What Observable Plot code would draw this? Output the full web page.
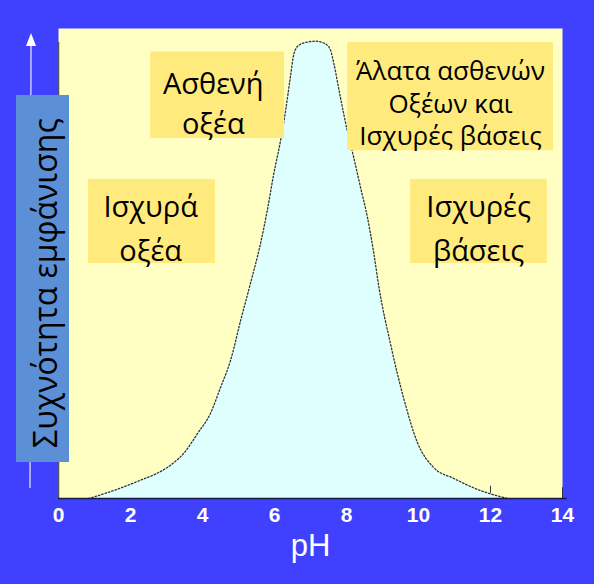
<!DOCTYPE html>
<html>
<head>
<meta charset="utf-8">
<script src="https://cdn.jsdelivr.net/npm/d3@7"></script>
<script src="https://cdn.jsdelivr.net/npm/@observablehq/plot@0.6"></script>
<style>
  html, body { margin: 0; padding: 0; background: #4040ff; }
  #wrap { position: relative; width: 594px; height: 584px; background: #4040ff; overflow: hidden; }
  #wrap > svg.plot { position: absolute; left: 0; top: 0; }
  #overlay { position: absolute; left: 0; top: 0; pointer-events: none; }
</style>
</head>
<body>
<div id="wrap"></div>
<script>
// ---- data ----
const ph   = [0.83, 1.5, 2.28, 2.8, 3.2, 3.5, 3.86, 4.22, 4.5, 4.78, 5.06, 5.33, 5.61, 5.80, 5.98, 6.17, 6.31, 6.44, 6.54, 6.67, 6.91, 7.14, 7.42, 7.56, 7.65, 7.83, 8.02, 8.20, 8.39, 8.58, 8.76, 8.90, 9.22, 9.60, 9.97, 10.42, 10.97, 11.72, 12.47];
const freq = [0,    1.6, 3.9,  5.6, 7.6, 9.8, 13.8, 18.1, 23.6, 29.4, 37.9, 45.7, 54.2, 61.3, 69.1, 76.2, 82.6, 89.6, 94.6, 96.4, 97.1, 97.3, 96.7, 95.3, 92.5, 85.4, 78.3, 72.6, 66.2, 59.9, 52.1, 45.0, 33.0, 21.0, 11.9, 6.6,  4.3,  1.7,  0];
const xTicks = [0, 2, 4, 6, 8, 10, 12, 14];
const stubTicks = [12, 14];
const stubTop = [2.6, 2.3];
const stubBottom = [1.1, 0];
const xLabel = "pH";
const yLabel = "Συχνότητα εμφάνισης";

// annotation boxes (data coordinates) and their texts
const boxX1 = [2.56, 8.03, 0.83, 9.78];
const boxX2 = [6.28, 13.75, 4.36, 13.58];
const boxY1 = [76.6, 74.0, 50.0, 50.0];
const boxY2 = [95.0, 97.0, 67.9, 67.9];
const boxTexts = ["Ασθενή\nοξέα", "Άλατα ασθενών\nΟξέων και\nΙσχυρές βάσεις", "Ισχυρά\nοξέα", "Ισχυρές\nβάσεις"];
const textX = [4.3, 10.89, 2.56, 11.67];
const textY = [84.6, 84.3, 58.2, 58.2];
const textSize = [29, 26, 29, 29];
const textLH = [1.4, 1.25, 1.5, 1.5];

const curve = ph.map((x, i) => ({x, y: freq[i]}));
const boxes = boxX1.map((x1, i) => ({x1, x2: boxX2[i], y1: boxY1[i], y2: boxY2[i]}));
const texts = boxTexts.map((t, i) => ({t, x: textX[i], y: textY[i], s: textSize[i], lh: textLH[i]}));
const stubs = stubTicks.map((x, i) => ({x, y1: stubBottom[i], y2: stubTop[i]}));

const greek = "'Open Sans', 'Noto Sans', sans-serif";
const latin = "'Liberation Sans', Arial, sans-serif";

const chart = Plot.plot({
  width: 594,
  height: 584,
  marginLeft: 58,
  marginRight: 32,
  marginTop: 28,
  marginBottom: 86,
  style: {background: "transparent", overflow: "visible"},
  x: {domain: [0, 14]},
  y: {domain: [0, 100], axis: null},
  marks: [
    Plot.frame({fill: "#ffffc4", stroke: null}),
    Plot.areaY(curve, {x: "x", y: "y", fill: "#dfffff", curve: "monotone-x"}),
    Plot.lineY(curve, {x: "x", y: "y", stroke: "#333", strokeWidth: 1.3, strokeDasharray: "1.5,2", curve: "monotone-x"}),
    Plot.rect(boxes, {x1: "x1", x2: "x2", y1: "y1", y2: "y2", fill: "#ffeb7d"}),
    ...texts.map(d => Plot.text([d], {x: "x", y: "y", text: "t", fontSize: d.s, lineHeight: d.lh, fontFamily: greek, fill: "black", textAnchor: "middle"})),
    Plot.ruleX(stubs, {x: "x", y1: "y1", y2: "y2", stroke: "#333", strokeWidth: 1}),
    Plot.ruleX([0], {y1: 0, y2: 97, stroke: "#555", strokeWidth: 1.5}),
    Plot.ruleY([0], {x1: 0, x2: 14.13, stroke: "#1a1a40", strokeWidth: 1.5}),
    Plot.axisX({ticks: xTicks, tickSize: 0, tickPadding: 9, fill: "white", fontWeight: "bold", fontSize: 21, fontFamily: latin, label: null, tickFormat: d => String(d)}),
    Plot.text([xLabel], {frameAnchor: "bottom", dy: 57, fill: "white", fontSize: 31, fontFamily: latin, textAnchor: "middle"})
  ]
});
chart.classList.add("plot");
const wrap = document.getElementById("wrap");
wrap.appendChild(chart);

// decorative overlay: arrow and y-label box
const ov = d3.select(wrap).append("svg").attr("id", "overlay").attr("width", 594).attr("height", 584);
ov.append("line").attr("x1", 31).attr("x2", 30).attr("y1", 46).attr("y2", 488).attr("stroke", "#c8c8ff").attr("stroke-width", 1.5);
ov.append("path").attr("d", "M26,46 L36,46 L31,33 Z").attr("fill", "white");
ov.append("rect").attr("x", 16).attr("y", 95).attr("width", 53).attr("height", 367).attr("fill", "#5b8fd6");
ov.append("text").attr("transform", "translate(57,283) rotate(-90)")
  .attr("text-anchor", "middle").attr("font-family", greek).attr("font-size", 32).attr("fill", "black")
  .text(yLabel);
</script>
</body>
</html>
